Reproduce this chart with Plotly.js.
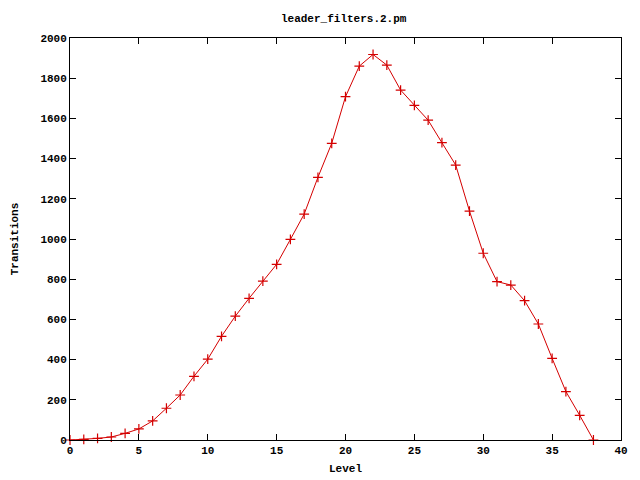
<!DOCTYPE html>
<html>
<head>
<meta charset="utf-8">
<script src="https://cdn.plot.ly/plotly-3.0.1.min.js"></script>
<style>html,body{margin:0;padding:0;background:#fff;}#chart{width:640px;height:480px;}</style>
</head>
<body>
<div id="chart"></div>
<script>
const levels = [0,1,2,3,4,5,6,7,8,9,10,11,12,13,14,15,16,17,18,19,20,21,22,23,24,25,26,27,28,29,30,31,32,33,34,35,36,37,38];
const transitions = [0,3,8,15,33,55,95,158,224,317,402,516,616,705,790,874,998,1124,1307,1476,1708,1860,1918,1865,1741,1665,1591,1479,1368,1139,929,788,771,693,577,406,241,123,0];
const xTicks = [0,5,10,15,20,25,30,35,40];
const yTicks = [0,200,400,600,800,1000,1200,1400,1600,1800,2000];

const fontFam = '"Liberation Mono", "DejaVu Sans Mono", monospace';
const trace = {
  x: levels, y: transitions, type: 'scatter', mode: 'lines+markers',
  line: {color: '#d40000', width: 1},
  marker: {symbol: 'cross-thin-open', size: 7, line: {color: '#d40000', width: 1.2}, color: '#d40000'},
  cliponaxis: false, showlegend: false
};
const axisCommon = {
  showgrid: false, zeroline: false, showline: true, linecolor: '#000', linewidth: 1,
  mirror: 'ticks', ticks: 'inside', ticklen: 6, tickcolor: '#000', tickwidth: 1,
  tickfont: {family: fontFam, size: 11, color: '#000', weight: 'bold'}
};
const layout = {
  width: 640, height: 480,
  margin: {l: 70, r: 19, t: 38, b: 40},
  paper_bgcolor: '#fff', plot_bgcolor: '#fff',
  title: {text: 'leader_filters.2.pm', x: 0.537, xanchor: 'center', y: 0.962, yanchor: 'middle',
          font: {family: fontFam, size: 11, color: '#000', weight: 'bold'}},
  xaxis: Object.assign({}, axisCommon, {range: [0, 40], tickmode: 'array', tickvals: xTicks, ticktext: xTicks.map(String),
          title: {text: 'Level', standoff: 8, font: {family: fontFam, size: 11, color: '#000', weight: 'bold'}}}),
  yaxis: Object.assign({}, axisCommon, {range: [0, 2000], tickmode: 'array', tickvals: yTicks, ticktext: yTicks.map(String),
          title: {text: 'Transitions', standoff: 19, font: {family: fontFam, size: 11, color: '#000', weight: 'bold'}}})
};
Plotly.newPlot('chart', [trace], layout, {displayModeBar: false, staticPlot: true});
</script>
</body>
</html>
